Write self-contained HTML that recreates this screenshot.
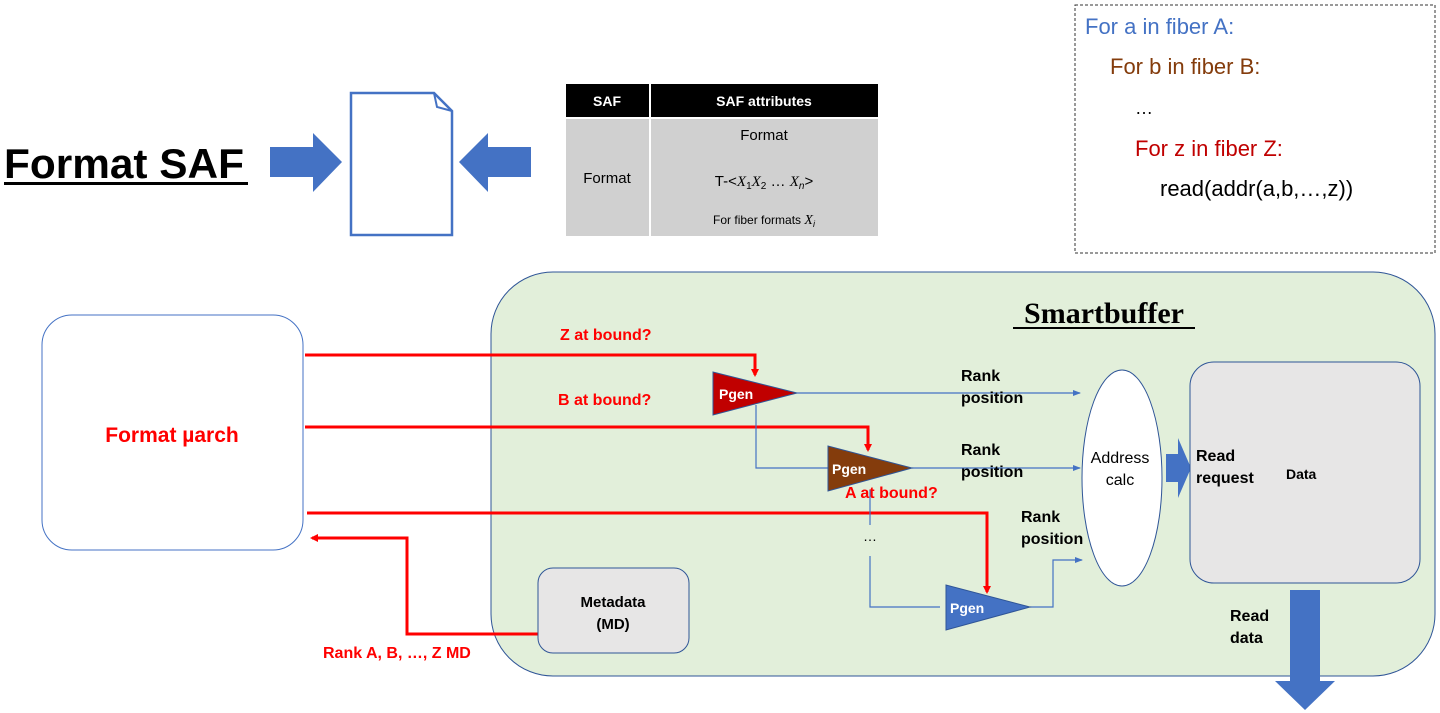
<!DOCTYPE html>
<html><head><meta charset="utf-8"><style>
html,body{margin:0;padding:0;background:#fff;}
svg{display:block;font-family:"Liberation Sans",Arial,sans-serif;}
</style></head><body>
<svg width="1440" height="713" viewBox="0 0 1440 713" xmlns="http://www.w3.org/2000/svg">
<defs>
<marker id="ra" markerWidth="8" markerHeight="8" refX="6" refY="4" orient="auto" markerUnits="userSpaceOnUse"><path d="M0,0 L8,4 L0,8 Z" fill="#ff0000"/></marker>
<marker id="ba" markerWidth="8" markerHeight="8" refX="7" refY="4" orient="auto" markerUnits="userSpaceOnUse"><path d="M0,1 L8,4 L0,7 Z" fill="#4472c4"/></marker>
</defs>

<text x="4" y="178" font-size="42" font-weight="bold" fill="#000" textLength="240" lengthAdjust="spacingAndGlyphs">Format SAF</text>
<rect x="4" y="182" width="244" height="3" fill="#000"/>
<path d="M270,147 L313,147 L313,133 L342,162 L313,192 L313,177 L270,177 Z" fill="#4472c4"/>
<path d="M531,147 L488,147 L488,133 L459,162 L488,192 L488,177 L531,177 Z" fill="#4472c4"/>
<path d="M351,93 L434,93 L452,111 L452,235 L351,235 Z" fill="#fff" stroke="#4472c4" stroke-width="2.5"/>
<path d="M434,93 L437,107 L452,111" fill="none" stroke="#4472c4" stroke-width="2"/>

<rect x="566" y="84" width="312" height="33" fill="#000"/>
<rect x="566" y="119" width="312" height="117" fill="#d0d0d0"/>
<rect x="649" y="84" width="2" height="152" fill="#fff"/>
<text x="607" y="106" font-size="14" font-weight="bold" fill="#fff" text-anchor="middle">SAF</text>
<text x="764" y="106" font-size="14" font-weight="bold" fill="#fff" text-anchor="middle">SAF attributes</text>
<text x="607" y="183" font-size="15" fill="#000" text-anchor="middle">Format</text>
<text x="764" y="140" font-size="15" fill="#000" text-anchor="middle">Format</text>
<text x="764" y="186" font-size="15" fill="#000" text-anchor="middle">T-&lt;<tspan font-family="Liberation Serif" font-style="italic">X</tspan><tspan font-size="10" dy="3">1</tspan><tspan dy="-3" font-family="Liberation Serif" font-style="italic">X</tspan><tspan font-size="10" dy="3">2</tspan><tspan dy="-3"> … </tspan><tspan font-family="Liberation Serif" font-style="italic">X</tspan><tspan font-size="10" dy="3" font-style="italic">n</tspan><tspan dy="-3">&gt;</tspan></text>
<text x="764" y="224" font-size="12" fill="#000" text-anchor="middle">For fiber formats <tspan font-family="Liberation Serif" font-style="italic" font-size="14">X</tspan><tspan font-size="9" dy="3" font-style="italic">i</tspan></text>

<rect x="1075" y="5" width="360" height="248" fill="#fff" stroke="#333" stroke-width="1" stroke-dasharray="3,2"/>
<text x="1085" y="34" font-size="22" fill="#4472c4">For a in fiber A:</text>
<text x="1110" y="74" font-size="22" fill="#843c0c">For b in fiber B:</text>
<text x="1135" y="114" font-size="18" fill="#000">…</text>
<text x="1135" y="156" font-size="22" fill="#c00000">For z in fiber Z:</text>
<text x="1160" y="196" font-size="22" fill="#000">read(addr(a,b,…,z))</text>

<rect x="491" y="272" width="944" height="404" rx="62" fill="#e2efda" stroke="#2f5597" stroke-width="1"/>
<text x="1104" y="323" font-size="30" font-weight="bold" fill="#000" text-anchor="middle" font-family="Liberation Serif, serif">Smartbuffer</text>
<rect x="1013" y="327" width="182" height="2" fill="#000"/>

<rect x="42" y="315" width="261" height="235" rx="30" fill="#fff" stroke="#4472c4" stroke-width="1"/>
<text x="172" y="442" font-size="21" font-weight="bold" fill="#ff0000" text-anchor="middle">Format µarch</text>

<g stroke="#ff0000" stroke-width="3" fill="none">
<path d="M305,355 L755,355 L755,375" marker-end="url(#ra)"/>
<path d="M305,427 L868,427 L868,450" marker-end="url(#ra)"/>
<path d="M307,513 L987,513 L987,592" marker-end="url(#ra)"/>
<path d="M540,634 L407,634 L407,538 L312,538" marker-end="url(#ra)"/>
</g>
<text x="560" y="340" font-size="16" font-weight="bold" fill="#ff0000">Z at bound?</text>
<text x="558" y="405" font-size="16" font-weight="bold" fill="#ff0000">B at bound?</text>
<text x="845" y="498" font-size="16" font-weight="bold" fill="#ff0000">A at bound?</text>
<text x="323" y="658" font-size="16" font-weight="bold" fill="#ff0000">Rank A, B, …, Z MD</text>

<g stroke="#4472c4" stroke-width="1.2" fill="none">
<path d="M797,393 L1080,393" marker-end="url(#ba)"/>
<path d="M912,468 L1080,468" marker-end="url(#ba)"/>
<path d="M1030,607 L1053,607 L1053,560 L1082,560" marker-end="url(#ba)"/>
<path d="M756,405 L756,468 L828,468"/>
<path d="M870,490 L870,525"/>
<path d="M870,556 L870,607 L940,607"/>
</g>
<text x="870" y="541" font-size="14" fill="#000" text-anchor="middle">…</text>

<path d="M713,372 L713,415 L797,393 Z" fill="#c00000" stroke="#2f5597" stroke-width="1"/>
<text x="719" y="399" font-size="14" font-weight="bold" fill="#fff">Pgen</text>
<path d="M828,446 L828,491 L912,468 Z" fill="#843c0c" stroke="#2f5597" stroke-width="1"/>
<text x="832" y="474" font-size="14" font-weight="bold" fill="#fff">Pgen</text>
<path d="M946,585 L946,630 L1030,607 Z" fill="#4472c4" stroke="#2f5597" stroke-width="1"/>
<text x="950" y="613" font-size="14" font-weight="bold" fill="#fff">Pgen</text>

<g font-size="16" font-weight="bold" fill="#000">
<text x="961" y="381">Rank</text><text x="961" y="403">position</text>
<text x="961" y="455">Rank</text><text x="961" y="477">position</text>
<text x="1021" y="522">Rank</text><text x="1021" y="544">position</text>
</g>

<ellipse cx="1122" cy="478" rx="40" ry="108" fill="#fff" stroke="#2f5597" stroke-width="1"/>
<text x="1120" y="463" font-size="16" fill="#000" text-anchor="middle">Address</text>
<text x="1120" y="485" font-size="16" fill="#000" text-anchor="middle">calc</text>
<path d="M1166,454 L1178,454 L1178,438 L1191,468 L1178,498 L1178,482 L1166,482 Z" fill="#4472c4"/>

<rect x="1190" y="362" width="230" height="221" rx="24" fill="#e7e6e6" stroke="#2f5597" stroke-width="1"/>
<text x="1196" y="461" font-size="16" font-weight="bold" fill="#000">Read</text>
<text x="1196" y="483" font-size="16" font-weight="bold" fill="#000">request</text>
<text x="1286" y="479" font-size="14" font-weight="bold" fill="#000">Data</text>

<path d="M1290,590 L1320,590 L1320,681 L1335,681 L1305,710 L1275,681 L1290,681 Z" fill="#4472c4"/>
<text x="1230" y="621" font-size="16" font-weight="bold" fill="#000">Read</text>
<text x="1230" y="643" font-size="16" font-weight="bold" fill="#000">data</text>

<rect x="538" y="568" width="151" height="85" rx="15" fill="#e7e6e6" stroke="#2f5597" stroke-width="1"/>
<text x="613" y="607" font-size="15" font-weight="bold" fill="#000" text-anchor="middle">Metadata</text>
<text x="613" y="629" font-size="15" font-weight="bold" fill="#000" text-anchor="middle">(MD)</text>
</svg>
</body></html>
